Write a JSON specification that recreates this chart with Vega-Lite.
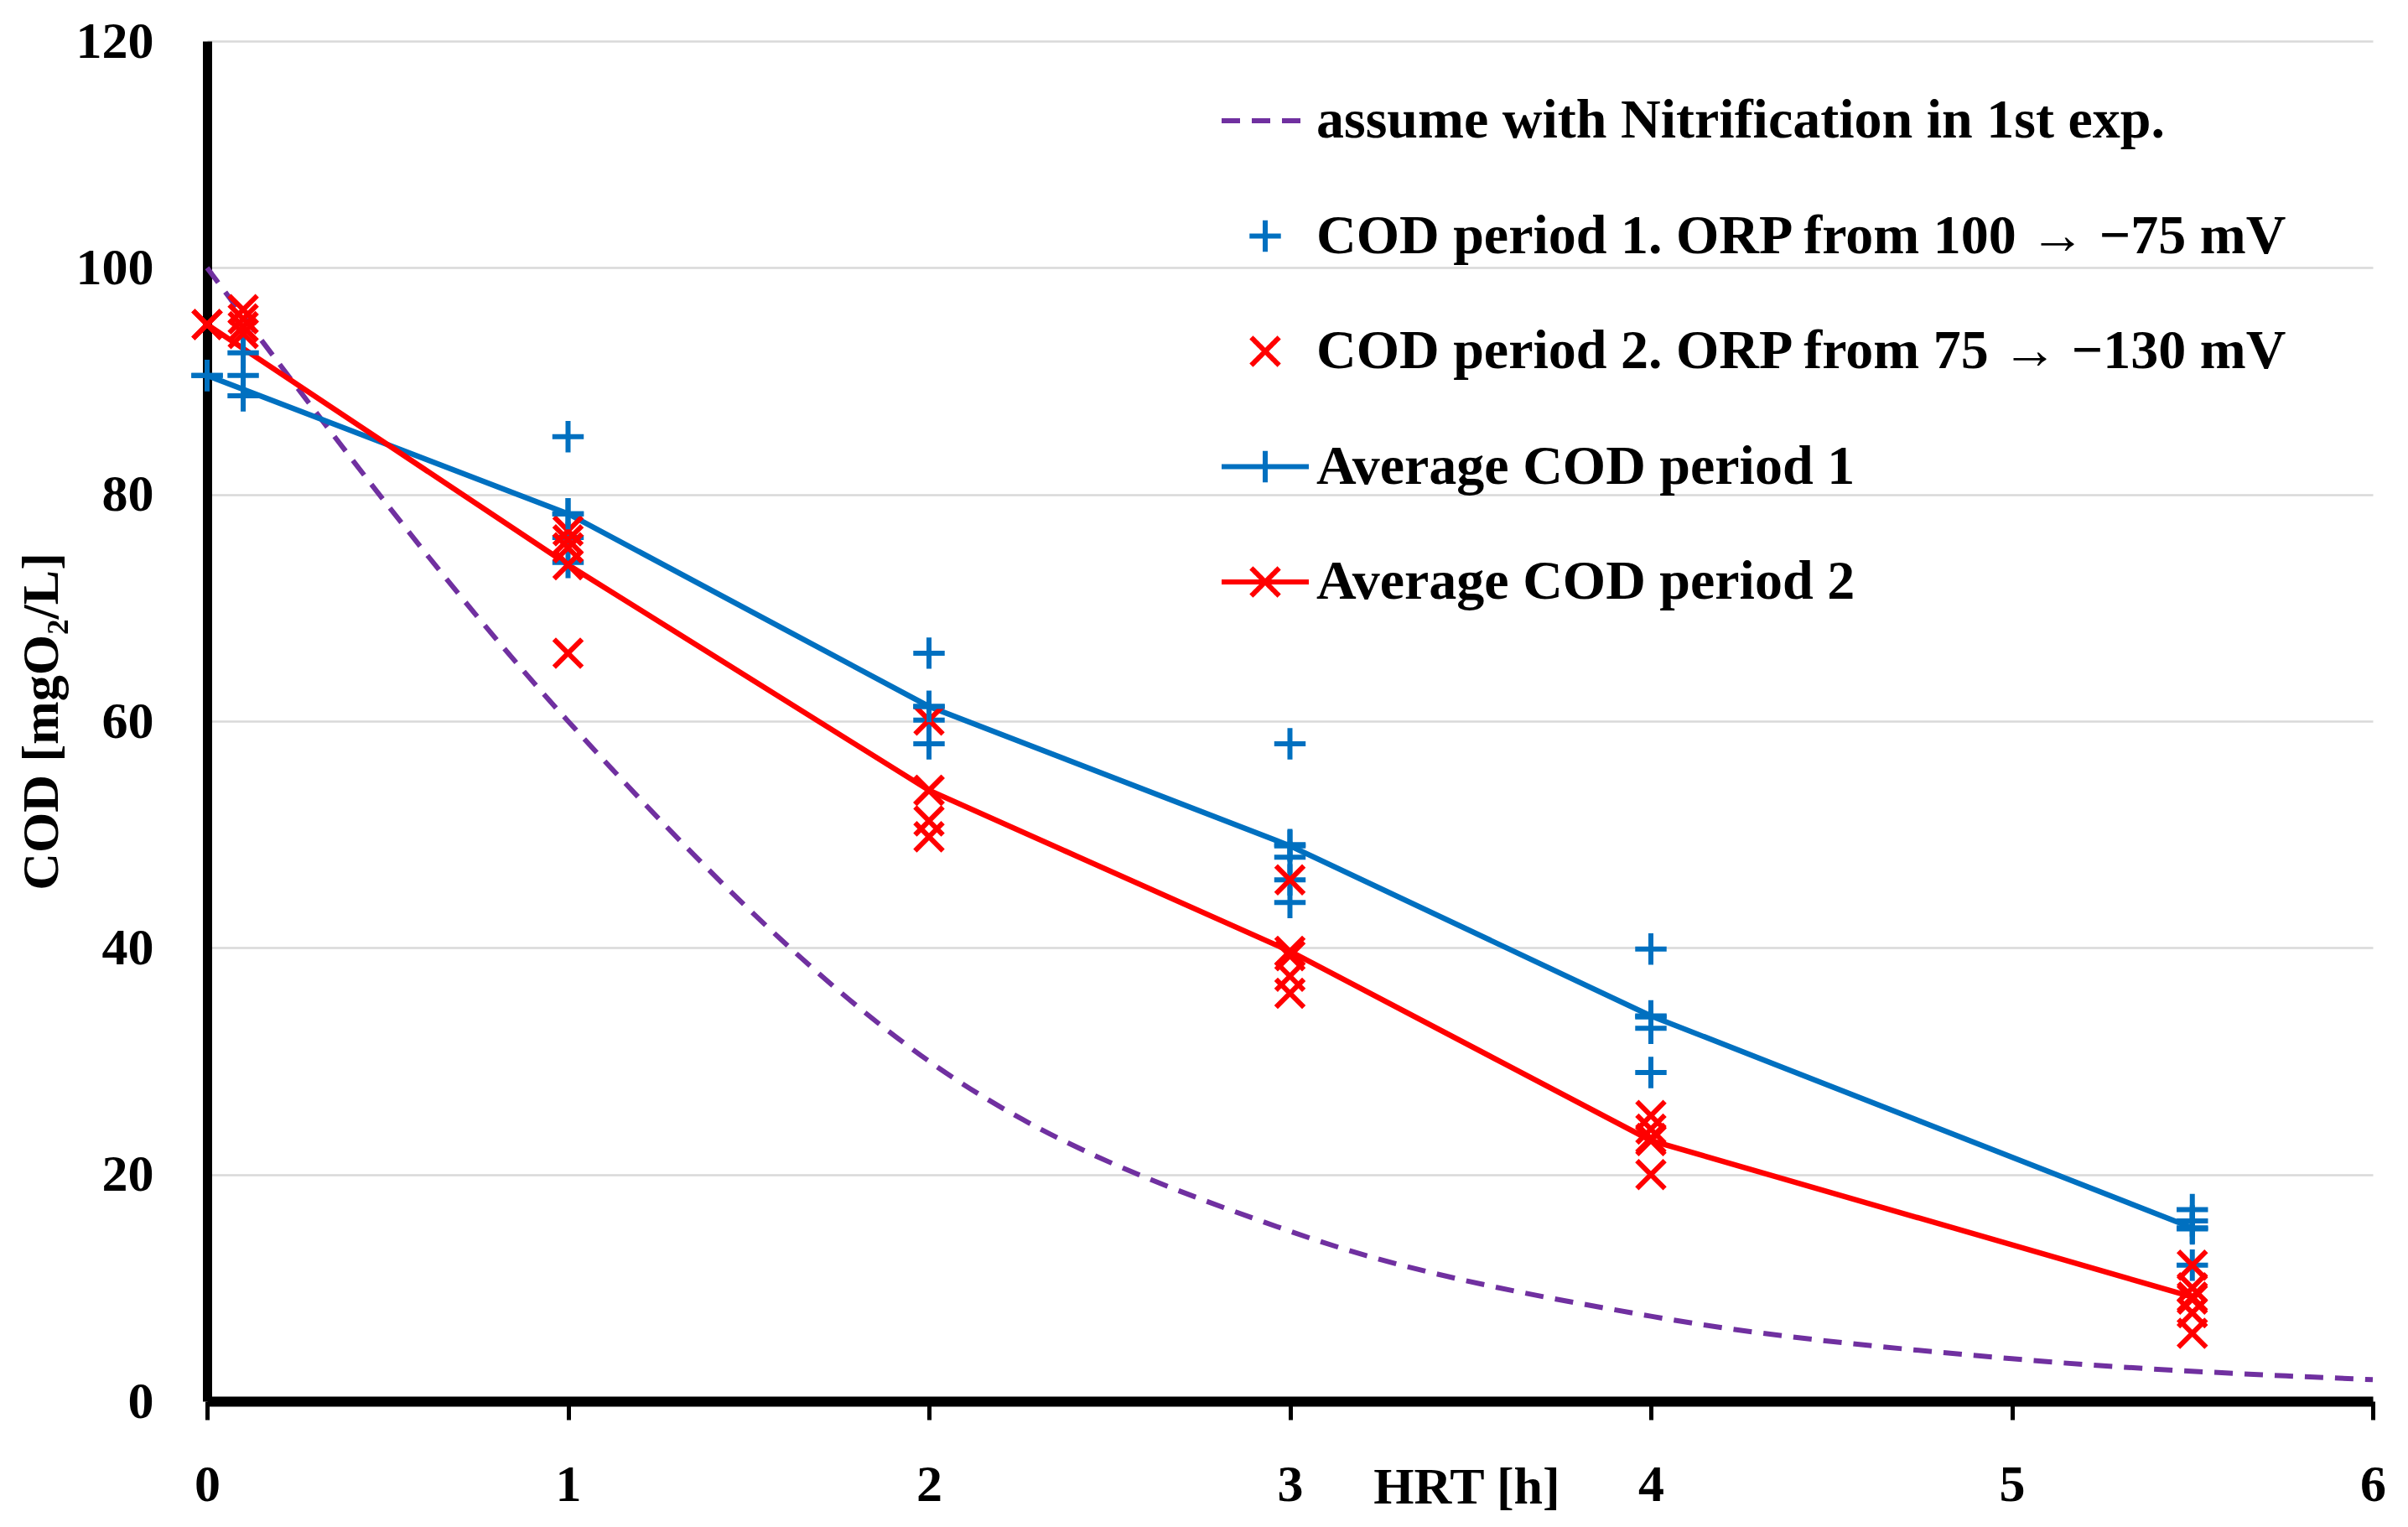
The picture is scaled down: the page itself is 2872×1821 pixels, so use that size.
{
  "$schema": "https://vega.github.io/schema/vega-lite/v6.json",
  "width": 2583,
  "height": 1622,
  "autosize": {"type": "none"},
  "padding": {"left": 247, "top": 49, "right": 42, "bottom": 150},
  "background": "white",
  "config": {"view": {"stroke": null}, "font": "Liberation Serif"},
  "datasets": {
    "curve": [
      {"hrt": 0, "cod": 100, "series": "assume with Nitrification in 1st exp."},
      {"hrt": 1, "cod": 60, "series": "assume with Nitrification in 1st exp."},
      {"hrt": 2, "cod": 30, "series": "assume with Nitrification in 1st exp."},
      {"hrt": 3, "cod": 15, "series": "assume with Nitrification in 1st exp."},
      {"hrt": 4, "cod": 7.5, "series": "assume with Nitrification in 1st exp."},
      {"hrt": 5, "cod": 3.75, "series": "assume with Nitrification in 1st exp."},
      {"hrt": 6, "cod": 1.9, "series": "assume with Nitrification in 1st exp."}
    ],
    "scatter": [
      {"hrt": 0, "cod": 90.5, "series": "COD period 1. ORP from 100 → −75 mV"},
      {"hrt": 0.1, "cod": 92.5, "series": "COD period 1. ORP from 100 → −75 mV"},
      {"hrt": 0.1, "cod": 90.5, "series": "COD period 1. ORP from 100 → −75 mV"},
      {"hrt": 0.1, "cod": 88.7, "series": "COD period 1. ORP from 100 → −75 mV"},
      {"hrt": 1, "cod": 85.1, "series": "COD period 1. ORP from 100 → −75 mV"},
      {"hrt": 1, "cod": 78.3, "series": "COD period 1. ORP from 100 → −75 mV"},
      {"hrt": 1, "cod": 76.2, "series": "COD period 1. ORP from 100 → −75 mV"},
      {"hrt": 1, "cod": 74.0, "series": "COD period 1. ORP from 100 → −75 mV"},
      {"hrt": 2, "cod": 66.0, "series": "COD period 1. ORP from 100 → −75 mV"},
      {"hrt": 2, "cod": 61.3, "series": "COD period 1. ORP from 100 → −75 mV"},
      {"hrt": 2, "cod": 60.1, "series": "COD period 1. ORP from 100 → −75 mV"},
      {"hrt": 2, "cod": 58.0, "series": "COD period 1. ORP from 100 → −75 mV"},
      {"hrt": 3, "cod": 58.0, "series": "COD period 1. ORP from 100 → −75 mV"},
      {"hrt": 3, "cod": 49.1, "series": "COD period 1. ORP from 100 → −75 mV"},
      {"hrt": 3, "cod": 48.0, "series": "COD period 1. ORP from 100 → −75 mV"},
      {"hrt": 3, "cod": 46.0, "series": "COD period 1. ORP from 100 → −75 mV"},
      {"hrt": 3, "cod": 44.0, "series": "COD period 1. ORP from 100 → −75 mV"},
      {"hrt": 4, "cod": 39.9, "series": "COD period 1. ORP from 100 → −75 mV"},
      {"hrt": 4, "cod": 33.9, "series": "COD period 1. ORP from 100 → −75 mV"},
      {"hrt": 4, "cod": 32.9, "series": "COD period 1. ORP from 100 → −75 mV"},
      {"hrt": 4, "cod": 29.0, "series": "COD period 1. ORP from 100 → −75 mV"},
      {"hrt": 5.5, "cod": 16.9, "series": "COD period 1. ORP from 100 → −75 mV"},
      {"hrt": 5.5, "cod": 15.9, "series": "COD period 1. ORP from 100 → −75 mV"},
      {"hrt": 5.5, "cod": 15.2, "series": "COD period 1. ORP from 100 → −75 mV"},
      {"hrt": 5.5, "cod": 12.0, "series": "COD period 1. ORP from 100 → −75 mV"},
      {"hrt": 0, "cod": 95.0, "series": "COD period 2. ORP from 75 → −130 mV"},
      {"hrt": 0.1, "cod": 96.3, "series": "COD period 2. ORP from 75 → −130 mV"},
      {"hrt": 0.1, "cod": 95.5, "series": "COD period 2. ORP from 75 → −130 mV"},
      {"hrt": 0.1, "cod": 94.8, "series": "COD period 2. ORP from 75 → −130 mV"},
      {"hrt": 0.1, "cod": 94.2, "series": "COD period 2. ORP from 75 → −130 mV"},
      {"hrt": 1, "cod": 76.8, "series": "COD period 2. ORP from 75 → −130 mV"},
      {"hrt": 1, "cod": 76.0, "series": "COD period 2. ORP from 75 → −130 mV"},
      {"hrt": 1, "cod": 75.3, "series": "COD period 2. ORP from 75 → −130 mV"},
      {"hrt": 1, "cod": 66.0, "series": "COD period 2. ORP from 75 → −130 mV"},
      {"hrt": 2, "cod": 60.1, "series": "COD period 2. ORP from 75 → −130 mV"},
      {"hrt": 2, "cod": 53.9, "series": "COD period 2. ORP from 75 → −130 mV"},
      {"hrt": 2, "cod": 51.2, "series": "COD period 2. ORP from 75 → −130 mV"},
      {"hrt": 2, "cod": 49.8, "series": "COD period 2. ORP from 75 → −130 mV"},
      {"hrt": 3, "cod": 46.0, "series": "COD period 2. ORP from 75 → −130 mV"},
      {"hrt": 3, "cod": 39.3, "series": "COD period 2. ORP from 75 → −130 mV"},
      {"hrt": 3, "cod": 37.5, "series": "COD period 2. ORP from 75 → −130 mV"},
      {"hrt": 3, "cod": 36.0, "series": "COD period 2. ORP from 75 → −130 mV"},
      {"hrt": 4, "cod": 25.2, "series": "COD period 2. ORP from 75 → −130 mV"},
      {"hrt": 4, "cod": 24.0, "series": "COD period 2. ORP from 75 → −130 mV"},
      {"hrt": 4, "cod": 23.2, "series": "COD period 2. ORP from 75 → −130 mV"},
      {"hrt": 4, "cod": 20.0, "series": "COD period 2. ORP from 75 → −130 mV"},
      {"hrt": 5.5, "cod": 12.0, "series": "COD period 2. ORP from 75 → −130 mV"},
      {"hrt": 5.5, "cod": 10.0, "series": "COD period 2. ORP from 75 → −130 mV"},
      {"hrt": 5.5, "cod": 9.0, "series": "COD period 2. ORP from 75 → −130 mV"},
      {"hrt": 5.5, "cod": 7.8, "series": "COD period 2. ORP from 75 → −130 mV"},
      {"hrt": 5.5, "cod": 6.0, "series": "COD period 2. ORP from 75 → −130 mV"}
    ],
    "avg": [
      {"hrt": 0, "cod": 90.5, "series": "Average COD period 1"},
      {"hrt": 1, "cod": 78.3, "series": "Average COD period 1"},
      {"hrt": 2, "cod": 61.3, "series": "Average COD period 1"},
      {"hrt": 3, "cod": 49.0, "series": "Average COD period 1"},
      {"hrt": 4, "cod": 34.0, "series": "Average COD period 1"},
      {"hrt": 5.5, "cod": 15.3, "series": "Average COD period 1"},
      {"hrt": 0, "cod": 95.0, "series": "Average COD period 2"},
      {"hrt": 1, "cod": 73.8, "series": "Average COD period 2"},
      {"hrt": 2, "cod": 53.9, "series": "Average COD period 2"},
      {"hrt": 3, "cod": 39.7, "series": "Average COD period 2"},
      {"hrt": 4, "cod": 23.0, "series": "Average COD period 2"},
      {"hrt": 5.5, "cod": 9.2, "series": "Average COD period 2"}
    ]
  },
  "encoding": {
    "x": {
      "field": "hrt",
      "type": "quantitative",
      "scale": {"domain": [0, 6], "nice": false, "zero": false},
      "axis": {
        "values": [0, 1, 2, 3, 4, 5, 6],
        "grid": false,
        "domainColor": "black",
        "domainWidth": 12,
        "ticks": true,
        "tickSize": 22,
        "tickWidth": 5,
        "tickColor": "black",
        "labelFont": "Liberation Serif",
        "labelFontSize": 62,
        "labelFontWeight": "bold",
        "labelColor": "black",
        "labelBaseline": "alphabetic",
        "labelPadding": 96,
        "labelFlush": false,
        "labelOverlap": false,
        "title": "HRT [h]",
        "titleFont": "Liberation Serif",
        "titleFontSize": 62,
        "titleFontWeight": "bold",
        "titleColor": "black",
        "titleX": 1502,
        "titleY": 121,
        "titleAlign": "center",
        "titleBaseline": "alphabetic"
      }
    },
    "y": {
      "field": "cod",
      "type": "quantitative",
      "scale": {"domain": [0, 120], "nice": false},
      "axis": {
        "values": [0, 20, 40, 60, 80, 100, 120],
        "grid": true,
        "gridColor": "#d9d9d9",
        "gridWidth": 2.5,
        "domainColor": "black",
        "domainWidth": 11,
        "ticks": false,
        "tickSize": 0,
        "labelFont": "Liberation Serif",
        "labelFontSize": 62,
        "labelFontWeight": "bold",
        "labelColor": "black",
        "labelPadding": 64,
        "labelFlush": false,
        "labelOverlap": false,
        "title": "COD [mgO₂/L]",
        "titleFont": "Liberation Serif",
        "titleFontSize": 62,
        "titleFontWeight": "bold",
        "titleColor": "black",
        "titleAngle": 270,
        "titleX": -198,
        "titleY": 811,
        "titleAlign": "center",
        "titleBaseline": "middle"
      }
    }
  },
  "layer": [
    {
      "data": {"name": "curve"},
      "mark": {"type": "line", "interpolate": "monotone", "strokeWidth": 6},
      "encoding": {
        "color": {
          "field": "series", "type": "nominal",
          "scale": {
            "domain": ["assume with Nitrification in 1st exp.", "COD period 1. ORP from 100 → −75 mV", "COD period 2. ORP from 75 → −130 mV", "Average COD period 1", "Average COD period 2"],
            "range": ["#7030a0", "#0070c0", "#ff0000", "#0070c0", "#ff0000"]
          },
          "legend": {
            "title": null, "orient": "none", "legendX": 1207, "legendY": 40, "padding": 0, "offset": 0,
            "rowPadding": 49.5, "symbolSize": 10816, "symbolStrokeWidth": 6, "symbolOpacity": 1,
            "symbolFillColor": "transparent", "labelOffset": 6, "labelFont": "Liberation Serif",
            "labelFontSize": 66, "labelFontWeight": "bold", "labelColor": "black", "labelLimit": 0
          }
        },
        "strokeDash": {
          "field": "series", "type": "nominal",
          "scale": {
            "domain": ["assume with Nitrification in 1st exp.", "COD period 1. ORP from 100 → −75 mV", "COD period 2. ORP from 75 → −130 mV", "Average COD period 1", "Average COD period 2"],
            "range": [[22, 14], [1, 0], [1, 0], [1, 0], [1, 0]]
          },
          "legend": {
            "title": null, "orient": "none", "legendX": 1207, "legendY": 40, "padding": 0, "offset": 0,
            "rowPadding": 49.5, "symbolSize": 10816, "symbolStrokeWidth": 6, "symbolOpacity": 1,
            "symbolFillColor": "transparent", "labelOffset": 6, "labelFont": "Liberation Serif",
            "labelFontSize": 66, "labelFontWeight": "bold", "labelColor": "black", "labelLimit": 0
          }
        }
      }
    },
    {
      "data": {"name": "avg"},
      "mark": {"type": "line", "strokeWidth": 6.5},
      "encoding": {
        "color": {"field": "series", "type": "nominal"}
      }
    },
    {
      "data": {"name": "scatter"},
      "mark": {"type": "point", "filled": false, "opacity": 1, "strokeWidth": 6, "size": 10816},
      "encoding": {
        "color": {"field": "series", "type": "nominal"},
        "shape": {
          "field": "series", "type": "nominal",
          "scale": {
            "domain": ["assume with Nitrification in 1st exp.", "COD period 1. ORP from 100 → −75 mV", "COD period 2. ORP from 75 → −130 mV", "Average COD period 1", "Average COD period 2"],
            "range": [
              "M-1,0H1",
              "M-0.36,0H0.36M0,-0.36V0.36",
              "M-0.32,-0.32L0.32,0.32M-0.32,0.32L0.32,-0.32",
              "M-1,0H1M0,-0.36V0.36",
              "M-1,0H1M-0.32,-0.32L0.32,0.32M-0.32,0.32L0.32,-0.32"
            ]
          },
          "legend": {
            "title": null, "orient": "none", "legendX": 1207, "legendY": 40, "padding": 0, "offset": 0,
            "rowPadding": 49.5, "symbolSize": 10816, "symbolStrokeWidth": 6, "symbolOpacity": 1,
            "symbolFillColor": "transparent", "labelOffset": 6, "labelFont": "Liberation Serif",
            "labelFontSize": 66, "labelFontWeight": "bold", "labelColor": "black", "labelLimit": 0
          }
        }
      }
    },
    {
      "data": {"name": "avg"},
      "transform": [{"filter": "datum.series === 'Average COD period 1'"}],
      "mark": {"type": "point", "filled": false, "opacity": 1, "strokeWidth": 6, "size": 10816, "shape": "M-0.36,0H0.36M0,-0.36V0.36", "color": "#0070c0"},
      "encoding": {}
    },
    {
      "data": {"name": "avg"},
      "transform": [{"filter": "datum.series === 'Average COD period 2'"}],
      "mark": {"type": "point", "filled": false, "opacity": 1, "strokeWidth": 6, "size": 10816, "shape": "M-0.32,-0.32L0.32,0.32M-0.32,0.32L0.32,-0.32", "color": "#ff0000"},
      "encoding": {}
    }
  ]
}
